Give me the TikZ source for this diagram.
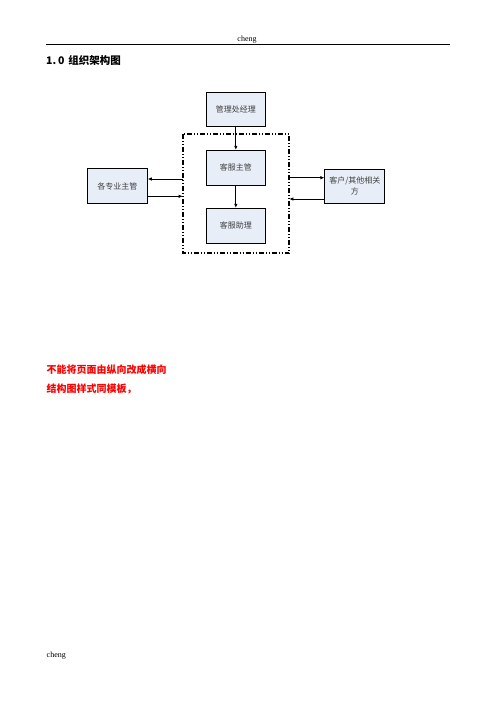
\documentclass[tikz,border=0pt]{standalone}
\usepackage{fontspec}
\setmainfont{Liberation Serif}
\newfontfamily\cjk{Noto Sans CJK SC}
\usetikzlibrary{arrows.meta}
\definecolor{boxfill}{RGB}{232,238,248}
\tikzset{
  orgbox/.style={draw=black, line width=0.9pt, fill=boxfill, minimum width=59.7pt, minimum height=34.5pt, inner sep=0pt, align=center, font=\cjk\fontsize{8}{10.5}\selectfont, text=black!75},
  arr/.style={line width=0.9pt, -{Latex[length=4pt,width=3.5pt]}},
  frameline/.style={line width=1.7pt, dash pattern=on 5pt off 2pt on 1pt off 2pt on 1pt off 2pt},
  plain/.style={inner sep=0pt, anchor=west}
}
\begin{document}
\begin{tikzpicture}[x=1pt,y=-1pt]
\useasboundingbox (0,0) rectangle (496,702);
\fill[white] (0,0) rectangle (496,702);
% header
\node[inner sep=0pt, font=\fontsize{8}{9}\selectfont] (hdr) at (247,39.5) {cheng};
\coordinate (hlA) at (46,44.7);
\coordinate (hlB) at (450,44.7);
\draw[line width=0.8pt] (hlA) -- (hlB);
\node[plain, font=\cjk\bfseries\fontsize{10.5}{12}\selectfont] (title) at (46,60) {1.\,0\hspace{4pt}组织架构图};
% frame
\draw[frameline] (182.7,134.3) rectangle (289.3,253.3);
\coordinate (fL1) at (182.7,179);
\coordinate (fL2) at (182.7,196.3);
\coordinate (fR1) at (289.3,177.7);
\coordinate (fR2) at (289.3,199);
% boxes
\node[orgbox] (mgr) at (235.8,109.5) {管理处经理};
\node[orgbox, minimum height=35pt] (sup) at (235.8,167.8) {客服主管};
\node[orgbox, minimum height=35pt] (asst) at (235.8,225.8) {客服助理};
\node[orgbox, minimum width=60pt, minimum height=34.6pt] (dept) at (117.3,186) {各专业主管};
\node[orgbox, minimum width=58.3pt, minimum height=34.3pt, text width=60pt] (cust) at (354.9,186.1) {客户/其他相关\\方};
% arrows
\draw[arr] (mgr) -- (sup);
\draw[arr] (sup) -- (asst);
\draw[arr] (fL1) -- (dept.east |- fL1);
\draw[arr] (dept.east |- fL2) -- (fL2);
\draw[arr] (fR1) -- (cust.west |- fR1);
\draw[arr] (cust.west |- fR2) -- (fR2);
% red notes
\node[plain, text=red, font=\cjk\bfseries\fontsize{10}{12}\selectfont] (note1) at (46.5,370) {不能将页面由纵向改成横向};
\node[plain, text=red, font=\cjk\bfseries\fontsize{10}{12}\selectfont] (note2) at (46.5,389.3) {结构图样式同模板，};
% footer
\node[plain, font=\fontsize{8}{9}\selectfont] (ftr) at (46.5,655.7) {cheng};
\end{tikzpicture}
\end{document}
